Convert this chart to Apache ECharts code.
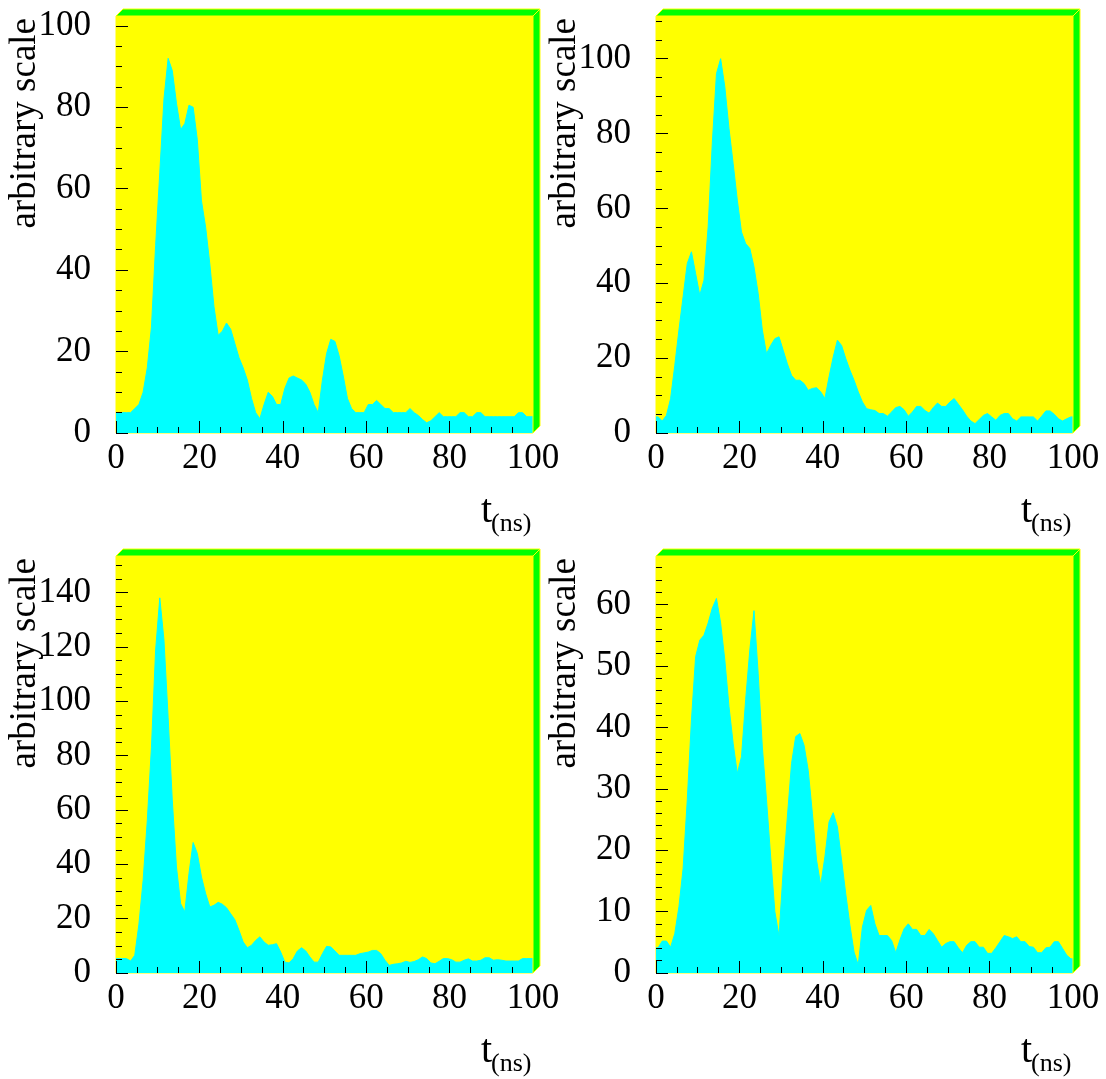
<!DOCTYPE html>
<html><head><meta charset="utf-8">
<script src="https://cdn.jsdelivr.net/npm/echarts@6/dist/echarts.min.js"></script>
<style>html,body{margin:0;padding:0;background:#fff}#c{width:1106px;height:1079px}</style>
</head><body><div id="c"></div>
<script>
// ---- data: 100 bins of 1 ns (0..100 ns) ----
const panel1 = [5,5,5,5,6,7,10,16,26,46,
  64,82,92,89,81,74.5,76,80.5,80,72,
  57,50.5,41.5,31,24,25,27,25.5,22,18.5,
  16,13,8.5,5,3.5,7,10,9,7,7,
  11,13.5,14,13.5,13,12,10,7,5,13,
  19.5,23,22.5,19,14,8.5,6,5,5,5,
  7,7,8,7,6,6,5,5,5,5,
  6,5,4.3,3.3,2.5,3,4,5,4,4,
  4,4,5,5,4,4,5,5,4,4,
  4,4,4,4,4,4,5,5,4,4];
const panel2 = [4.3,3.2,4.7,9.2,18,27.5,36.4,45.3,48.4,42.6,
  36.8,40.8,55,77.4,96,100,92.5,81.4,72,62.2,
  53.7,50.6,49.3,44.4,37.3,27.5,21.2,23.4,25.2,25.7,
  22.1,18.5,15.4,14.1,14.1,13.2,11.4,11.9,12.1,11,
  9.2,15,20.3,24.8,23.4,19.9,16.8,14.1,11,8.3,
  6.5,6.2,6,5.2,5.2,4.5,5.6,6.8,7.1,6.2,
  4.5,5.6,7.1,7.1,6,5.3,6.8,8,7.1,7.1,
  8.3,9.2,7.7,6.2,4.5,3.2,2.5,3.6,4.7,5.2,
  4.3,3.4,4.7,5.2,5.2,3.8,3.2,4.3,4.3,4.3,
  4.3,3.2,4.5,5.9,5.9,5,3.8,3.2,3.8,4.3];
const panel3 = [5.3,5.3,5.3,4.4,6.5,18,34,56,83,118.8,
  138,122.5,94,63.6,39,25.5,22.5,36.6,48,44,
  35.3,29.2,24.3,24.9,26,25.3,24,21.8,19.6,15.7,
  11.4,9.3,10.2,12,13.3,11.4,10.2,10.4,10.8,7.7,
  4,3.7,5.3,8.1,9.3,8.1,5.9,4,4,7.1,
  9.8,9.6,8.1,6.5,6.5,6.5,6.5,6.5,7.1,7.4,
  7.7,8.3,8.3,7.1,4.7,2.8,3.2,3.4,3.7,4.3,
  3.9,4.2,4.9,5.9,5.3,3.7,3.4,4.3,5.3,5.3,
  4.9,4,4,4.7,5.2,4.4,4.4,4.7,5.6,5.6,
  4.7,4.9,4.7,4.4,4.4,4.4,4.4,5.3,5.3,5.3];
const panel4 = [4.1,5.2,5.2,4.2,6.4,10.8,17,28.2,41.2,51.5,
  54.2,55,57,59.4,61,57,51,43.4,37.4,32.5,
  35.2,44.5,52.6,59,48.8,36.8,28.2,18.9,10,6,
  16.7,25.4,34.1,38.5,39,37.1,33,26,18.4,14.3,
  18.9,24.6,26.1,23.8,18.4,12.9,7.8,3.4,1.3,7.5,
  10.2,11,8,6.1,6.1,6.1,5.3,3.3,5.4,7.2,
  8,7.1,7.1,6.1,6.1,7.1,6.4,5.3,4.2,4.8,
  5.1,5.1,4.1,3.3,4.5,5.1,5.1,4.2,4.2,3.2,
  3.2,4.1,5.1,6.1,5.9,5.6,5.9,5.1,5.1,4.3,
  4.2,3.3,3.3,4.1,4.2,5.1,5.1,4,2.9,2.3];

// ---- axes: extents and tick values ----
const xRange = [0, 100];
const xTicks = [0, 20, 40, 60, 80, 100];
const xMinorTicks = [5,10,15,25,30,35,45,50,55,65,70,75,85,90,95];
const yMaxes = [102.4, 111.4, 153.4, 67.9];
const yTicks1 = [0, 20, 40, 60, 80, 100];
const yTicks2 = [0, 20, 40, 60, 80, 100];
const yTicks3 = [0, 20, 40, 60, 80, 100, 120, 140];
const yTicks4 = [0, 10, 20, 30, 40, 50, 60];
const yMinor1 = [5,10,15,25,30,35,45,50,55,65,70,75,85,90,95];
const yMinor2 = [5,10,15,25,30,35,45,50,55,65,70,75,85,90,95,105,110];
const yMinor3 = [5,10,15,25,30,35,45,50,55,65,70,75,85,90,95,105,110,115,125,130,135,145,150];
const yMinor4 = [2,4,6,8,12,14,16,18,22,24,26,28,32,34,36,38,42,44,46,48,52,54,56,58,62,64,66];
const yTitle = 'arbitrary scale';
const xTitleMain = 't';
const xTitleSub = '(ns)';

// ---- layout / style ----
const FONT = 'Liberation Serif';
const SIZE = 417, DEPTH = 7;
const origins = [[116, 16], [656, 16], [116, 556], [656, 556]];
const panels = [panel1, panel2, panel3, panel4];
const yTicks = [yTicks1, yTicks2, yTicks3, yTicks4];
const yMinors = [yMinor1, yMinor2, yMinor3, yMinor4];

const grid = [], xAxis = [], yAxis = [], series = [], graphic = [];
origins.forEach(([L, T], k) => {
  const R = L + SIZE, B = T + SIZE;
  grid.push({left: L, top: T, width: SIZE, height: SIZE, show: true,
    backgroundColor: '#ffff00', borderColor: '#ffff00', borderWidth: 1});
  const common = {gridIndex: k, type: 'value', z: 10, splitLine: {show: false}, axisLine: {show: false}};
  xAxis.push(Object.assign({}, common, {min: xRange[0], max: xRange[1], position: 'bottom',
    axisTick: {inside: true, length: 12, lineStyle: {color: '#000', width: 1}, customValues: xTicks},
    axisLabel: {customValues: xTicks, fontSize: 35, fontFamily: FONT, color: '#000', margin: 8}}));
  xAxis.push(Object.assign({}, common, {min: xRange[0], max: xRange[1], position: 'bottom',
    axisTick: {inside: true, length: 6, lineStyle: {color: '#000', width: 1}, customValues: xMinorTicks},
    axisLabel: {show: false}}));
  yAxis.push(Object.assign({}, common, {min: 0, max: yMaxes[k], position: 'left',
    axisTick: {inside: true, length: 12, lineStyle: {color: '#000', width: 1}, customValues: yTicks[k]},
    axisLabel: {customValues: yTicks[k], fontSize: 35, fontFamily: FONT, color: '#000', margin: 25}}));
  yAxis.push(Object.assign({}, common, {min: 0, max: yMaxes[k], position: 'left',
    axisTick: {inside: true, length: 6, lineStyle: {color: '#000', width: 1}, customValues: yMinors[k]},
    axisLabel: {show: false}}));
  const vals = panels[k];
  const pts = [[xRange[0], vals[0]]].concat(vals.map((v, i) => [i + 0.5, v]), [[xRange[1], vals[vals.length - 1]]]);
  series.push({type: 'line', xAxisIndex: 2 * k, yAxisIndex: 2 * k, data: pts, symbol: 'none',
    z: 3, lineStyle: {color: '#00ffff', width: 1}, areaStyle: {color: '#00ffff', opacity: 1}});
  // 3D frame
  graphic.push({type: 'polygon', z: 20, shape: {points: [[L, T], [L + DEPTH, T - DEPTH], [R + DEPTH, T - DEPTH], [R, T]]},
    style: {fill: '#00ff00', stroke: '#ffff00', lineWidth: 1}});
  graphic.push({type: 'polygon', z: 20, shape: {points: [[R, T], [R + DEPTH, T - DEPTH], [R + DEPTH, B - DEPTH], [R, B]]},
    style: {fill: '#00ff00', stroke: '#ffff00', lineWidth: 1}});
  // titles
  graphic.push({type: 'text', z: 20, x: L - 91, y: T + 2, rotation: Math.PI / 2,
    style: {text: yTitle, fontSize: 37, fontFamily: FONT, fill: '#000', align: 'right', verticalAlign: 'middle'}});
  graphic.push({type: 'text', z: 20, x: R - 41, y: B + 78,
    style: {text: xTitleMain, fontSize: 40, fontFamily: FONT, fill: '#000', align: 'right', verticalAlign: 'middle'}});
  graphic.push({type: 'text', z: 20, x: R - 42, y: B + 91,
    style: {text: xTitleSub, fontSize: 26, fontFamily: FONT, fill: '#000', align: 'left', verticalAlign: 'middle'}});
});

const chart = echarts.init(document.getElementById('c'), null, {renderer: 'canvas'});
chart.setOption({animation: false, backgroundColor: '#ffffff', grid, xAxis, yAxis, series, graphic});
</script>
</body></html>
